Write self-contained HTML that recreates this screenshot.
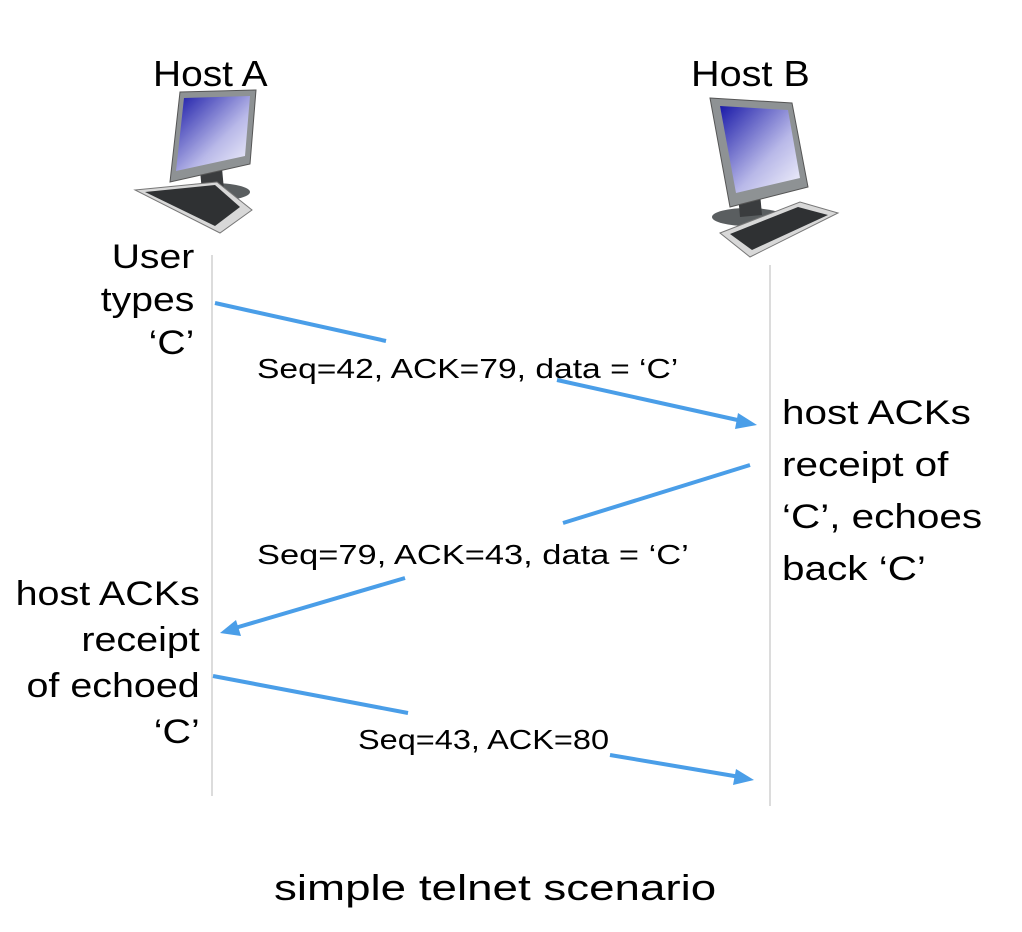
<!DOCTYPE html>
<html><head><meta charset="utf-8"><style>
html,body{margin:0;padding:0;background:#fff}
body{width:1022px;height:932px;position:relative;overflow:hidden;font-family:"Liberation Sans",sans-serif;color:#000}
.t{position:absolute;white-space:nowrap;transform-origin:0 0}
.r{transform-origin:100% 0}
</style></head><body>
<svg width="1022" height="932" style="position:absolute;left:0;top:0">
<defs>
<linearGradient id="g" x1="0" y1="0" x2="1" y2="1"><stop offset="0" stop-color="#1a1aa8"/><stop offset="0.6" stop-color="#b8b8e8"/><stop offset="1" stop-color="#f4f4fc"/></linearGradient>
</defs>
<line x1="212" y1="255" x2="212" y2="796" stroke="#dcdcdc" stroke-width="2"/>
<line x1="770" y1="265" x2="770" y2="806" stroke="#dcdcdc" stroke-width="2"/>
<g>
<ellipse cx="212" cy="192" rx="38" ry="9" fill="#5a5e60"/>
<polygon points="200,170 222,168 224,190 202,192" fill="#3a3c3e"/>
<polygon points="180,92 256,90 250,164 170,182" fill="#8e9294" stroke="#555" stroke-width="1"/>
<polygon points="184,98 250,96 245,156 176,171" fill="url(#g)"/>
<polygon points="135,190 217,182 252,210 220,233" fill="#d8d8d8" stroke="#777"/>
<polygon points="145,192 215,185 240,207 215,226" fill="#2f3133"/>
</g>
<g>
<ellipse cx="748" cy="217" rx="36" ry="9" fill="#5a5e60"/>
<polygon points="738,195 760,193 762,215 740,217" fill="#3a3c3e"/>
<polygon points="710,98 792,103 808,187 730,207" fill="#8e9294" stroke="#555" stroke-width="1"/>
<polygon points="720,106 788,110 800,178 736,193" fill="url(#g)"/>
<polygon points="720,233 800,202 838,213 750,257" fill="#d8d8d8" stroke="#777"/>
<polygon points="730,234 798,207 828,215 752,250" fill="#2f3133"/>
</g>
<g stroke="#4a9ee8" stroke-width="4" fill="none">
<line x1="215" y1="303" x2="386" y2="341"/>
<line x1="557" y1="380" x2="742" y2="421"/>
<line x1="750" y1="465" x2="563" y2="523"/>
<line x1="405" y1="578" x2="235" y2="628"/>
<line x1="213" y1="676" x2="408" y2="713"/>
<line x1="610" y1="755" x2="740" y2="777"/>
</g>
<g fill="#4a9ee8">
<polygon points="757,425 738,413 735,429"/>
<polygon points="220,633 236,620 241,636"/>
<polygon points="754,780 736,769 733,785"/>
</g>
</svg>
<div class="t" style="left:153px;top:53px;font-size:36px;transform:scaleX(1.08)">Host A</div>
<div class="t" style="left:691px;top:53px;font-size:36px;transform:scaleX(1.1)">Host B</div>
<div class="t r" style="right:828px;top:236px;font-size:34px;line-height:43px;text-align:right;transform:scaleX(1.15)">User<br>types<br>‘C’</div>
<div class="t" style="left:257px;top:353px;font-size:28px;transform:scaleX(1.2)">Seq=42, ACK=79, data = ‘C’</div>
<div class="t" style="left:782px;top:387px;font-size:34px;line-height:52px;transform:scaleX(1.19)">host ACKs<br>receipt of<br>‘C’, echoes<br>back ‘C’</div>
<div class="t" style="left:257px;top:539px;font-size:28px;transform:scaleX(1.23)">Seq=79, ACK=43, data = ‘C’</div>
<div class="t r" style="right:822px;top:571px;font-size:34px;line-height:46px;text-align:right;transform:scaleX(1.16)">host ACKs<br>receipt<br>of echoed<br>‘C’</div>
<div class="t" style="left:358px;top:724px;font-size:28px;transform:scaleX(1.16)">Seq=43, ACK=80</div>
<div class="t" style="left:274px;top:867px;font-size:36px;transform:scaleX(1.27)">simple telnet scenario</div>
</body></html>
